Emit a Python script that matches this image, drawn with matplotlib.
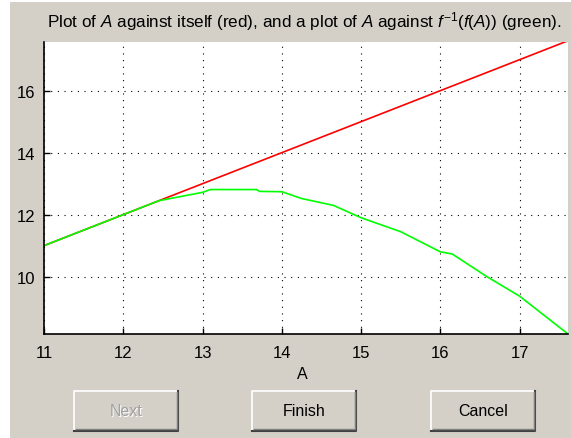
import numpy as np
import matplotlib.pyplot as plt
from matplotlib.patches import Rectangle

# === Data ===
a_red = [11.0, 17.61]
a_green = [11.0, 12.0, 12.45, 13.0, 13.1, 13.68, 13.72, 14.0, 14.25, 14.65,
           15.0, 15.5, 16.0, 16.15, 16.6, 17.0, 17.61]
f_inv_f = [11.0, 12.0, 12.45, 12.72, 12.81, 12.81, 12.75, 12.74, 12.52, 12.3,
           11.9, 11.45, 10.8, 10.73, 9.98, 9.37, 8.15]
x_ticks = [11, 12, 13, 14, 15, 16, 17]
y_ticks = [10, 12, 14, 16]
buttons = ["Next", "Finish", "Cancel"]

# === Style ===
plt.rcParams['font.family'] = ['Liberation Sans', 'DejaVu Sans']
plt.rcParams['mathtext.fontset'] = 'custom'
plt.rcParams['mathtext.rm'] = 'Liberation Sans'
plt.rcParams['mathtext.it'] = 'Liberation Sans:italic'
GRAY = '#d4d0c8'
W, H = 571, 439

fig = plt.figure(figsize=(W / 100, H / 100), dpi=100)
fig.patch.set_facecolor('white')

# background panel in pixel coords
bg = fig.add_axes([0, 0, 1, 1], zorder=-1)
bg.set_xlim(0, W)
bg.set_ylim(H, 0)
bg.axis('off')
bg.add_patch(Rectangle((10, 3), W - 10, H - 3, facecolor=GRAY, edgecolor='none'))

bg.text(304, 22, r"Plot of $A$ against itself (red), and a plot of $A$ against $f^{-1}(f(A))$ (green).",
        ha='center', va='center', fontsize=12.3, color='black')

# buttons
btn_x = [74, 252, 431]
for lbl, x0 in zip(buttons, btn_x):
    y0, bw, bh = 392, 104, 40
    bg.add_patch(Rectangle((x0, y0), bw, bh, facecolor=GRAY, edgecolor='none'))
    bg.plot([x0, x0, x0 + bw], [y0 + bh, y0, y0], color='white', lw=1.2)
    bg.plot([x0, x0 + bw, x0 + bw], [y0 + bh, y0 + bh, y0], color='#404040', lw=1.5)
    bg.plot([x0 + 1.5, x0 + bw - 1.5, x0 + bw - 1.5], [y0 + bh - 1.5, y0 + bh - 1.5, y0 + 1.5],
            color='#808080', lw=1)
    if lbl == "Next":
        bg.text(x0 + bw / 2 + 1, y0 + bh / 2 + 1, lbl, ha='center', va='center',
                fontsize=11.5, color='white')
        bg.text(x0 + bw / 2, y0 + bh / 2, lbl, ha='center', va='center',
                fontsize=11.5, color='#a0a0a0')
    else:
        bg.text(x0 + bw / 2, y0 + bh / 2, lbl, ha='center', va='center',
                fontsize=11.5, color='black')

# === Main axes ===
ax = fig.add_axes([44 / W, (H - 335) / H, 524 / W, 291.7 / H])
ax.set_facecolor('white')
ax.plot(a_red, a_red, color='#ff0000', lw=1.2)
ax.plot(a_green, f_inv_f, color='#00ff00', lw=1.2)

ax.set_xlim(11, 17.61)
ax.set_ylim(8.15, 17.56)
ax.set_xticks(x_ticks)
ax.set_yticks(y_ticks)
ax.grid(True, color='black', linestyle=(0, (1, 5)), linewidth=0.8)
ax.tick_params(direction='in', length=4, width=1, labelsize=12,
               colors='black')
ax.tick_params(axis='x', pad=8)
ax.tick_params(axis='y', pad=6)
for s in ['top', 'right']:
    ax.spines[s].set_visible(False)
for s in ['left', 'bottom']:
    ax.spines[s].set_linewidth(1.2)
ax.set_xlabel("A", fontsize=11.5)
ax.xaxis.set_label_coords((302 - 44) / 524, -0.137)
ax.xaxis.label.set_va('center')

fig.savefig("out.png", dpi=100, facecolor=fig.get_facecolor())
